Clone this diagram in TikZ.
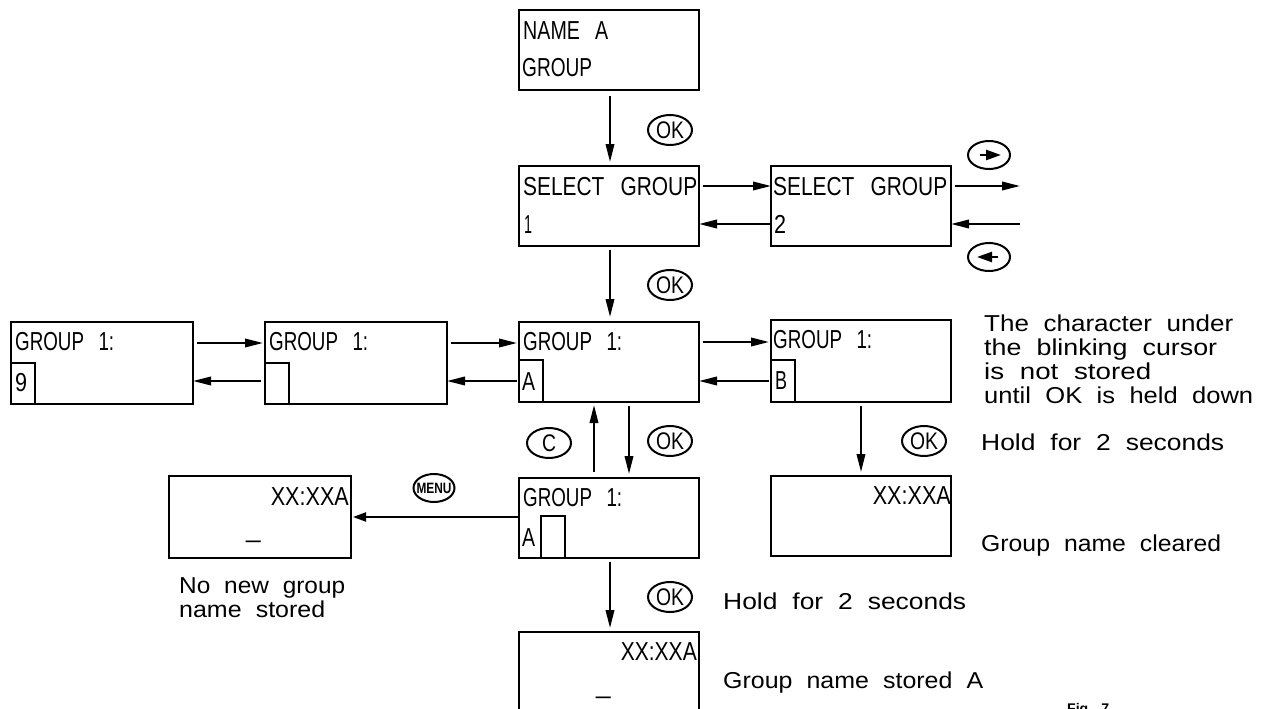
\documentclass[tikz,border=0pt]{standalone}
\usepackage{graphicx}
\usepackage{fontspec}
\usetikzlibrary{arrows.meta,shapes.geometric,calc}
\newfontfamily\lsfont{Liberation Sans}
\newcommand{\fw}[2]{\resizebox{#1pt}{\height}{\spaceskip=20pt\relax #2}}
\newcommand{\fn}[2]{\resizebox{#1pt}{\height}{\spaceskip=13pt\relax #2}}
\tikzset{
  x=1pt,y=-1pt,
  box/.style={draw=black,line width=2.3pt,rectangle,inner sep=0pt,anchor=north west,minimum width=180pt,minimum height=80pt,outer sep=0pt},
  cursorbox/.style={draw=black,line width=2.3pt,rectangle,inner sep=0pt,anchor=north west,outer sep=0pt},
  disp/.style={anchor=base west,inner sep=0pt,font=\fontsize{26}{26}\lsfont},
  dispr/.style={anchor=base east,inner sep=0pt,font=\fontsize{26}{26}\lsfont},
  note/.style={anchor=base west,inner sep=0pt,font=\fontsize{23}{23}\lsfont},
  btn/.style={draw=black,line width=2pt,ellipse,inner sep=-6pt,minimum width=44pt,minimum height=30pt,font=\fontsize{24}{24}\lsfont},
  conn/.style={line width=2pt,-{Triangle[length=18pt,width=8.5pt]}},
  key/.style={line width=2.4pt,-{Triangle[length=15pt,width=10pt]}},
}
\begin{document}
\begin{tikzpicture}
\useasboundingbox (0,0) rectangle (1269,709);
\clip (0,0) rectangle (1269,709);
% boxes
\node[box] (name) at (519,10) {};
\node[box] (sel1) at (519,166) {};
\node[box] (sel2) at (771,166) {};
\node[box,minimum width=182pt,minimum height=82pt] (l1) at (11,322) {};
\node[box,minimum width=182pt,minimum height=82pt] (l2) at (265,322) {};
\node[box] (ctr) at (519,322) {};
\node[box,minimum height=82pt] (bb) at (771,320) {};
\node[box] (ga) at (519,478) {};
\node[box] (xr) at (771,476) {};
\node[box,minimum width=182pt,minimum height=82pt] (xl) at (169,476) {};
\node[box,minimum height=100pt] (xb) at (519,632) {};
% cursor cells
\node[cursorbox,minimum width=24pt,minimum height=41pt] (c1) at (11,363) {};
\node[cursorbox,minimum width=24pt,minimum height=41pt] (c2) at (265,363) {};
\node[cursorbox,minimum width=24pt,minimum height=42pt] (c3) at (519,360) {};
\node[cursorbox,minimum width=24pt,minimum height=42pt] (c4) at (771,360) {};
\node[cursorbox,minimum width=24pt,minimum height=42pt] (c5) at (541,516) {};
% box text
\node[disp] (t1) at (523,40) {\fw{85}{NAME A}};
\node[disp] (t2) at (522,77) {\fw{70}{GROUP}};
\node[disp] (t3) at (523,195) {\fw{174}{SELECT GROUP}};
\node[disp] (t4) at (524,233) {\fw{8}{1}};
\node[disp] (t5) at (773,195) {\fw{174}{SELECT GROUP}};
\node[disp] (t6) at (774,233) {\fw{12}{2}};
\node[disp] (t7) at (15,350) {\fw{99}{GROUP 1:}};
\node[disp] (t8) at (15,391) {\fw{12}{9}};
\node[disp] (t9) at (269,350) {\fw{99}{GROUP 1:}};
\node[disp] (t10) at (523,350) {\fw{99}{GROUP 1:}};
\node[disp] (t11) at (522,390) {\fw{13}{A}};
\node[disp] (t12) at (773,348) {\fw{99}{GROUP 1:}};
\node[disp] (t13) at (775,389) {\fw{12}{B}};
\node[disp] (t14) at (523,506) {\fw{99}{GROUP 1:}};
\node[disp] (t15) at (522,546) {\fw{13}{A}};
\node[dispr] (t16) at (349,505) {\fw{78}{XX:XXA}};
\node[disp] (t17) at (246,537) {\_};
\node[dispr] (t18) at (951,504) {\fw{78}{XX:XXA}};
\node[dispr] (t19) at (697,660) {\fw{76}{XX:XXA}};
\node[disp] (t20) at (596,693) {\_};
% notes
\node[note] (n1) at (984,331) {\fn{249}{The character under}};
\node[note] (n2) at (984,355) {\fn{233}{the blinking cursor}};
\node[note] (n3) at (984,379) {\fn{167}{is not stored}};
\node[note] (n4) at (984,403) {\fn{269}{until OK is held down}};
\node[note] (n5) at (981,450) {\fn{243}{Hold for 2 seconds}};
\node[note] (n6) at (981,551) {\fn{240}{Group name cleared}};
\node[note] (n7) at (723,609) {\fn{243}{Hold for 2 seconds}};
\node[note] (n8) at (723,688) {\fn{260}{Group name stored A}};
\node[note] (n9) at (179,593) {\fn{166}{No new group}};
\node[note] (n10) at (179,617) {\fn{146}{name stored}};
\node[anchor=base west,inner sep=0pt,font=\fontsize{14}{14}\bfseries\lsfont] (fig) at (1067,713) {\fn{42}{Fig 7}};
% buttons
\node[btn] (ok1) at (670,130) {\fw{28}{OK}};
\node[btn] (ok2) at (670,285) {\fw{28}{OK}};
\node[btn] (ok3) at (670,441) {\fw{28}{OK}};
\node[btn] (ok4) at (924,441) {\fw{28}{OK}};
\node[btn] (ok5) at (670,597) {\fw{28}{OK}};
\node[btn] (cb) at (549,443) {\fw{14}{C}};
\node[btn,minimum width=41pt,minimum height=28pt,font=\fontsize{15}{15}\bfseries\lsfont] (menu) at (434,488) {\fw{35}{MENU}};
\node[btn,minimum width=42pt,minimum height=28pt] (rb) at (989,155) {};
\node[btn,minimum width=42pt,minimum height=28pt] (lb) at (989,257) {};
\draw[key] ([xshift=-9pt]rb.center) -- ([xshift=12pt]rb.center);
\draw[key] ([xshift=9pt]lb.center) -- ([xshift=-12pt]lb.center);
% free ends
\coordinate (outa) at (1020,186);
\coordinate (outb) at (1020,224);
% connectors
\draw[conn] ([yshift=-6pt]name.south -| 610,0) -- ([yshift=4pt]sel1.north -| 610,0);
\draw[conn] ([yshift=-4pt]sel1.south -| 610,0) -- ([yshift=5pt]ctr.north -| 610,0);
\draw[conn] ([xshift=4pt]sel1.east |- 0,186) -- (sel2.west |- 0,186);
\draw[conn] (sel2.west |- 0,224) -- (sel1.east |- 0,224);
\draw[conn] ([xshift=4pt]sel2.east |- outa) -- (outa);
\draw[conn] (outb) -- (sel2.east |- outb);
\draw[conn] ([xshift=4pt]l1.east |- 0,343) -- ([xshift=-2pt]l2.west |- 0,343);
\draw[conn] ([xshift=-4pt]l2.west |- 0,381) -- (l1.east |- 0,381);
\draw[conn] ([xshift=4pt]l2.east |- 0,343) -- ([xshift=-2pt]ctr.west |- 0,343);
\draw[conn] ([xshift=-2pt]ctr.west |- 0,381) -- (l2.east |- 0,381);
\draw[conn] ([xshift=4pt]ctr.east |- 0,342) -- ([xshift=-2pt]bb.west |- 0,342);
\draw[conn] ([xshift=-2pt]bb.west |- 0,381) -- (ctr.east |- 0,381);
\draw[conn] ([yshift=6pt]ga.north -| 594,0) -- ([yshift=-3pt]ctr.south -| 594,0);
\draw[conn] ([yshift=-4pt]ctr.south -| 629,0) -- ([yshift=4pt]ga.north -| 629,0);
\draw[conn] ([yshift=-4pt]bb.south -| 861,0) -- ([yshift=4pt]xr.north -| 861,0);
\draw[line width=2pt,-{Triangle[length=13pt,width=9pt]}] (ga.west |- 0,517) -- ([xshift=2pt]xl.east |- 0,517);
\draw[conn] ([yshift=-4pt]ga.south -| 610,0) -- ([yshift=4pt]xb.north -| 610,0);
\end{tikzpicture}
\end{document}
